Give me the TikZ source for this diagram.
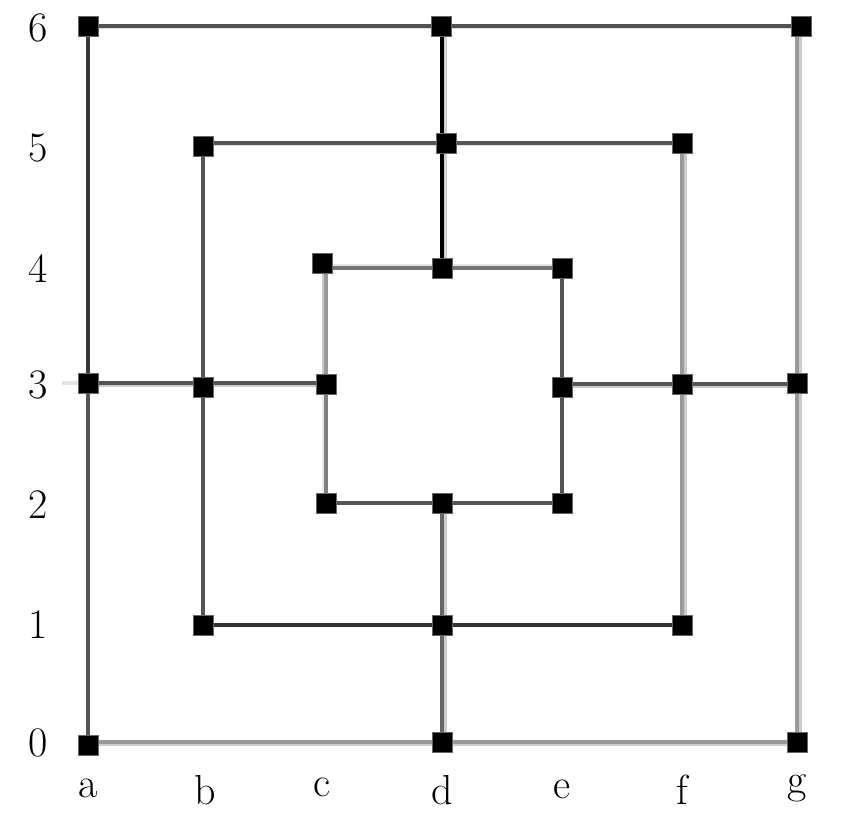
\documentclass[tikz,border=0pt]{standalone}
\usetikzlibrary{backgrounds}
\tikzset{
  sq/.style={fill=black, draw=black!60, line width=0.2pt, minimum size=10pt, inner sep=0pt, outer sep=0pt},
  lbl/.style={inner sep=0pt, font=\fontsize{21}{24}\selectfont},
  darkline/.style={line width=1.75pt},
  lightline/.style={line width=2pt}
}
% horizontal edge: from, to, row-reference node, dark colour, light colour, canvas shift
\newcommand\hedge[6]{%
  \ifx\relax#5\relax\else
  \draw[lightline, #5, transform canvas={#6}] (#1.center |- #3.center) -- (#2.center |- #3.center);\fi
  \draw[darkline, #4] (#1.center |- #3.center) -- (#2.center |- #3.center);}
% vertical edge: from, to, column-reference node, dark colour, light colour, canvas shift
\newcommand\vedge[6]{%
  \ifx\relax#5\relax\else
  \draw[lightline, #5, transform canvas={#6}] (#3.center |- #1.center) -- (#3.center |- #2.center);\fi
  \draw[darkline, #4] (#3.center |- #1.center) -- (#3.center |- #2.center);}
\begin{document}
\begin{tikzpicture}[x=0.5pt,y=-0.5pt]
\useasboundingbox (0,0) rectangle (848,838);
% points
\node[sq] (a6) at (88,26) {};
\node[sq] (d6) at (441,26) {};
\node[sq] (g6) at (801,26) {};
\node[sq] (b5) at (203,146) {};
\node[sq] (d5) at (446,143) {};
\node[sq] (f5) at (682,143) {};
\node[sq] (c4) at (322,263) {};
\node[sq] (d4) at (442,268) {};
\node[sq] (e4) at (562,268) {};
\node[sq] (a3) at (88,383) {};
\node[sq] (b3) at (203,387) {};
\node[sq] (c3) at (326,384) {};
\node[sq] (e3) at (562,387) {};
\node[sq] (f3) at (682,384) {};
\node[sq] (g3) at (797,383) {};
\node[sq] (c2) at (326,503) {};
\node[sq] (d2) at (442,503) {};
\node[sq] (e2) at (562,503) {};
\node[sq] (b1) at (203,625) {};
\node[sq] (d1) at (442,625) {};
\node[sq] (f1) at (682,625) {};
\node[sq] (a0) at (88,745) {};
\node[sq] (d0) at (442,742) {};
\node[sq] (g0) at (797,742) {};
\coordinate (a3w) at (62,384);
% labels
\node[lbl] (r6) at (38,28) {6};
\node[lbl] (r5) at (38,148) {5};
\node[lbl] (r4) at (38,268) {4};
\node[lbl] (r3) at (38,385) {3};
\node[lbl] (r2) at (38,505) {2};
\node[lbl] (r1) at (38,625) {1};
\node[lbl] (r0) at (38,743) {0};
\node[lbl,anchor=base] (ca) at (88,798) {a};
\node[lbl,anchor=base] (cb) at (205,805) {b};
\node[lbl,anchor=base] (cc) at (322,797) {c};
\node[lbl,anchor=base] (cd) at (442,805) {d};
\node[lbl,anchor=base] (ce) at (562,799) {e};
\node[lbl,anchor=base] (cf) at (682,805) {f};
\node[lbl,anchor=base] (cg) at (797,794) {g};
\begin{scope}[on background layer]
  % outer square
  \hedge{a6}{d6}{a6}{black!68}{black!13}{yshift=-0.75pt}
  \hedge{d6}{g6}{a6}{black!68}{black!13}{yshift=-0.75pt}
  \vedge{a6}{a3}{a6}{black!78}{}{}
  \vedge{a3}{a0}{a6}{black!67}{}{}
  \vedge{g6}{g3}{g3}{black!40}{black!20}{xshift=1.25pt}
  \vedge{g3}{g0}{g3}{black!40}{black!20}{xshift=1.25pt}
  \hedge{a0}{d0}{d0}{black!40}{black!20}{yshift=-1pt}
  \hedge{d0}{g0}{d0}{black!40}{black!20}{yshift=-1pt}
  % middle square
  \hedge{b5}{d5}{d5}{black!67}{black!10}{yshift=-0.5pt}
  \hedge{d5}{f5}{d5}{black!67}{black!10}{yshift=-0.5pt}
  \vedge{b5}{b3}{b5}{black!67}{}{}
  \vedge{b3}{b1}{b5}{black!67}{}{}
  \vedge{f5}{f3}{f5}{black!40}{black!20}{xshift=1.25pt}
  \vedge{f3}{f1}{f5}{black!40}{black!20}{xshift=1.25pt}
  \hedge{b1}{d1}{d1}{black!80}{}{}
  \hedge{d1}{f1}{d1}{black!80}{}{}
  % inner square
  \hedge{c4}{d4}{d4}{black!55}{black!10}{yshift=1pt}
  \hedge{d4}{e4}{d4}{black!55}{black!10}{yshift=1pt}
  \vedge{c4}{c3}{c3}{black!40}{black!20}{xshift=-1.25pt}
  \vedge{c3}{c2}{c3}{black!50}{black!8}{xshift=-1.25pt}
  \vedge{e4}{e3}{e4}{black!67}{}{}
  \vedge{e3}{e2}{e4}{black!67}{}{}
  \hedge{c2}{d2}{d2}{black!67}{}{}
  \hedge{d2}{e2}{d2}{black!67}{}{}
  % cross lines
  \vedge{d6}{d5}{d4}{black}{black!18}{xshift=1.25pt}
  \vedge{d5}{d4}{d4}{black}{black!18}{xshift=1.25pt}
  \vedge{d2}{d1}{d2}{black!60}{black!20}{xshift=1.25pt}
  \vedge{d1}{d0}{d2}{black!60}{black!20}{xshift=1.25pt}
  \hedge{a3w}{a3}{a3}{black!10}{}{}
  \hedge{a3}{b3}{a3}{black!67}{black!20}{yshift=-1pt}
  \hedge{b3}{c3}{a3}{black!67}{black!20}{yshift=-1pt}
  \hedge{e3}{f3}{f3}{black!67}{black!20}{yshift=-1pt}
  \hedge{f3}{g3}{f3}{black!67}{black!20}{yshift=-1pt}
\end{scope}
\end{tikzpicture}
\end{document}
